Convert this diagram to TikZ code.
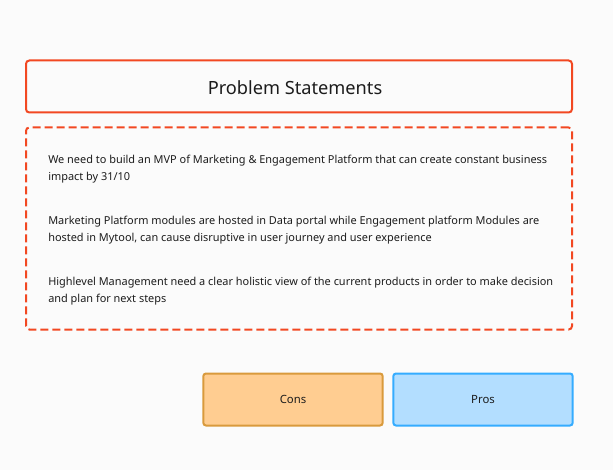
\documentclass[tikz,border=0pt]{standalone}
\usepackage{fontspec}
\setmainfont{Noto Sans}
\usepackage{tikz}
\usetikzlibrary{positioning}
\definecolor{pagebg}{HTML}{FBFBFB}
\definecolor{alertred}{HTML}{F24822}
\definecolor{inkdark}{HTML}{1C1C1C}
\definecolor{consfill}{HTML}{FFCD91}
\definecolor{consframe}{HTML}{D99A3C}
\definecolor{prosfill}{HTML}{B3DEFF}
\definecolor{prosframe}{HTML}{35ACFF}

\begin{document}
\begin{tikzpicture}[
    x=0.75pt,
    y=-0.75pt,
    every node/.style={text=inkdark},
    headbox/.style={
        rectangle,
        rounded corners=2.5pt,
        minimum width=409.5pt,
        minimum height=39pt,
        draw=alertred,
        line width=1.5pt
    },
    framebox/.style={
        rectangle,
        rounded corners=2.5pt,
        minimum width=409.5pt,
        minimum height=151.5pt,
        draw=alertred,
        dash pattern=on 6pt off 3pt,
        line width=1.5pt
    },
    choicebox/.style={
        rectangle,
        rounded corners=2pt,
        minimum width=134.5pt,
        minimum height=39pt,
        line width=1.5pt,
        font=\fontsize{8.5}{10}\selectfont
    },
    stmt/.style={
        anchor=north west,
        inner sep=0pt,
        align=left,
        font=\fontsize{8.2}{12.75}\selectfont
    }
]
    % Page
    \path[fill=pagebg, use as bounding box] (0,0) rectangle (613,470);

    % Title
    \node[headbox] (title) at (299,86.5) {};
    \node[font=\fontsize{13.65}{16}\selectfont] (titletext) at (295,87.5) {Problem Statements};

    % Statements
    \node[framebox] (statements) at (299,228.5) {};
    \node[stmt] (stmta) at (48,155) {We need to build an MVP of Marketing \& Engagement Platform that can create constant business\\impact by 31/10};
    \node[stmt] (stmtb) at (48,216) {Marketing Platform modules are hosted in Data portal while Engagement platform Modules are\\hosted in Mytool, can cause disruptive in user journey and user experience};
    \node[stmt] (stmtc) at (48,277) {Highlevel Management need a clear holistic view of the current products in order to make decision\\and plan for next steps};

    % Cons and Pros
    \node[choicebox, fill=consfill, draw=consframe] (cons) at (293,399.5) {Cons};
    \node[choicebox, fill=prosfill, draw=prosframe] (pros) at (483,399.5) {Pros};
\end{tikzpicture}
\end{document}
